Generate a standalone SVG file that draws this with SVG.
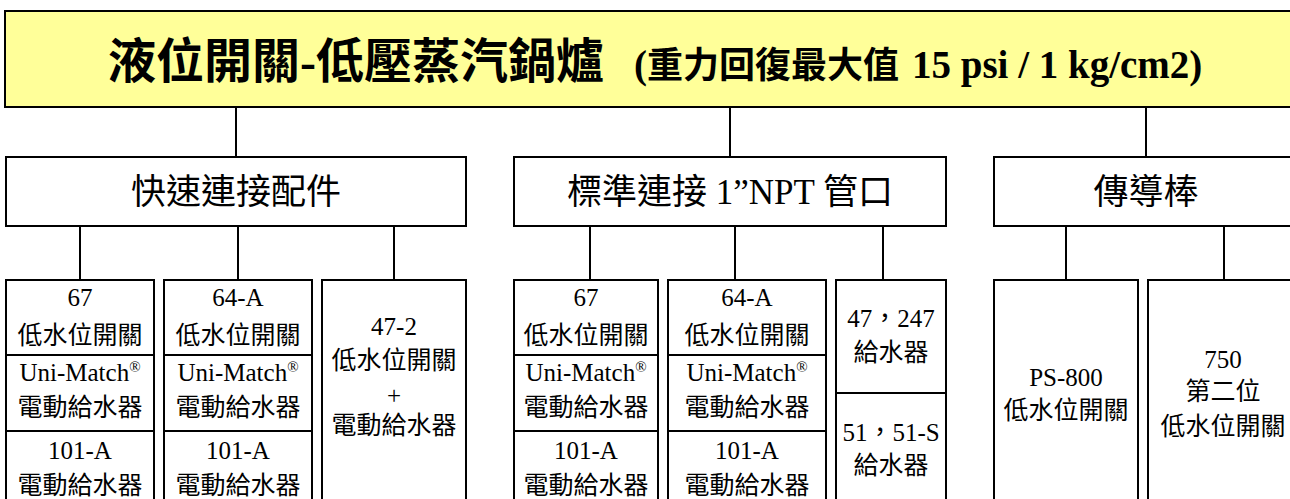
<svg xmlns="http://www.w3.org/2000/svg" width="1290" height="499" viewBox="0 0 1290 499">
<style>
.box{fill:#fff;stroke:#000;stroke-width:2}
.div{stroke:#000;stroke-width:2}
.con{stroke:#000;stroke-width:2;fill:none}
text{font-family:"Liberation Serif","Noto Sans CJK TC",serif;fill:#000;text-anchor:middle}
.tt{text-anchor:start;font-weight:bold}
.t1{font-size:48px}
.t1c{font-size:36px}
.t1b{font-size:39px}
.t2{font-size:35px}
.t3{font-size:25px}
.sup{font-size:15px}
</style>
<rect width="1290" height="499" fill="#fff"/>
<g id="connectors">
<path class="con" d="M236 107V157M730 107V157M1146 107V157"/>
<path class="con" d="M80 226V280M238 226V280M394 226V280M590 226V280M735 226V280M883 226V280M1066 226V280M1224 226V280"/>
</g>
<g id="title">
<rect x="5" y="11" width="1300" height="96" fill="#FFFF99" stroke="#000" stroke-width="2"/>
<text class="tt" y="78"><tspan class="t1" x="108">液位開關-低壓蒸汽鍋爐</tspan><tspan class="t1b" x="634">(</tspan><tspan class="t1c">重力回復最大值</tspan><tspan class="t1b" x="912">15 psi / 1 kg/cm2)</tspan></text>
</g>
<g id="quick">
<rect class="box" x="6" y="157" width="460" height="69"/>
<text class="t2" x="236" y="204">快速連接配件</text>
</g>
<g id="standard">
<rect class="box" x="514" y="157" width="432" height="69"/>
<text class="t2" x="730" y="204">標準連接 1”NPT 管口</text>
</g>
<g id="probe">
<rect class="box" x="994" y="157" width="304" height="69"/>
<text class="t2" x="1146" y="204">傳導棒</text>
</g>
<g id="q67">
<rect class="box" x="6" y="280" width="148" height="230"/>
<line class="div" x1="6" y1="355" x2="154" y2="355"/>
<line class="div" x1="6" y1="431" x2="154" y2="431"/>
<text class="t3" x="80" y="306">67</text>
<text class="t3" x="80" y="344">低水位開關</text>
<text class="t3" x="80" y="381">Uni-Match<tspan class="sup" dy="-9">®</tspan></text>
<text class="t3" x="80" y="416">電動給水器</text>
<text class="t3" x="80" y="459">101-A</text>
<text class="t3" x="80" y="494">電動給水器</text>
</g>
<g id="q64A">
<rect class="box" x="164" y="280" width="148" height="230"/>
<line class="div" x1="164" y1="355" x2="312" y2="355"/>
<line class="div" x1="164" y1="431" x2="312" y2="431"/>
<text class="t3" x="238" y="306">64-A</text>
<text class="t3" x="238" y="344">低水位開關</text>
<text class="t3" x="238" y="381">Uni-Match<tspan class="sup" dy="-9">®</tspan></text>
<text class="t3" x="238" y="416">電動給水器</text>
<text class="t3" x="238" y="459">101-A</text>
<text class="t3" x="238" y="494">電動給水器</text>
</g>
<g id="q47-2">
<rect class="box" x="322" y="280" width="144" height="230"/>
<text class="t3" x="394" y="335">47-2</text>
<text class="t3" x="394" y="369">低水位開關</text>
<text class="t3" x="394" y="404">+</text>
<text class="t3" x="394" y="434">電動給水器</text>
</g>
<g id="s67">
<rect class="box" x="514" y="280" width="144" height="230"/>
<line class="div" x1="514" y1="355" x2="658" y2="355"/>
<line class="div" x1="514" y1="431" x2="658" y2="431"/>
<text class="t3" x="586" y="306">67</text>
<text class="t3" x="586" y="344">低水位開關</text>
<text class="t3" x="586" y="381">Uni-Match<tspan class="sup" dy="-9">®</tspan></text>
<text class="t3" x="586" y="416">電動給水器</text>
<text class="t3" x="586" y="459">101-A</text>
<text class="t3" x="586" y="494">電動給水器</text>
</g>
<g id="s64A">
<rect class="box" x="668" y="280" width="158" height="230"/>
<line class="div" x1="668" y1="355" x2="826" y2="355"/>
<line class="div" x1="668" y1="431" x2="826" y2="431"/>
<text class="t3" x="747" y="306">64-A</text>
<text class="t3" x="747" y="344">低水位開關</text>
<text class="t3" x="747" y="381">Uni-Match<tspan class="sup" dy="-9">®</tspan></text>
<text class="t3" x="747" y="416">電動給水器</text>
<text class="t3" x="747" y="459">101-A</text>
<text class="t3" x="747" y="494">電動給水器</text>
</g>
<g id="s47">
<rect class="box" x="836" y="280" width="110" height="230"/>
<line class="div" x1="836" y1="393" x2="946" y2="393"/>
<text class="t3" x="891" y="327">47，247</text>
<text class="t3" x="891" y="361">給水器</text>
<text class="t3" x="891" y="441">51，51-S</text>
<text class="t3" x="891" y="474">給水器</text>
</g>
<g id="ps800">
<rect class="box" x="994" y="280" width="144" height="230"/>
<text class="t3" x="1066" y="386">PS-800</text>
<text class="t3" x="1066" y="419">低水位開關</text>
</g>
<g id="p750">
<rect class="box" x="1148" y="280" width="150" height="230"/>
<text class="t3" x="1223" y="368">750</text>
<text class="t3" x="1223" y="400">第二位</text>
<text class="t3" x="1223" y="435">低水位開關</text>
</g>
</svg>
